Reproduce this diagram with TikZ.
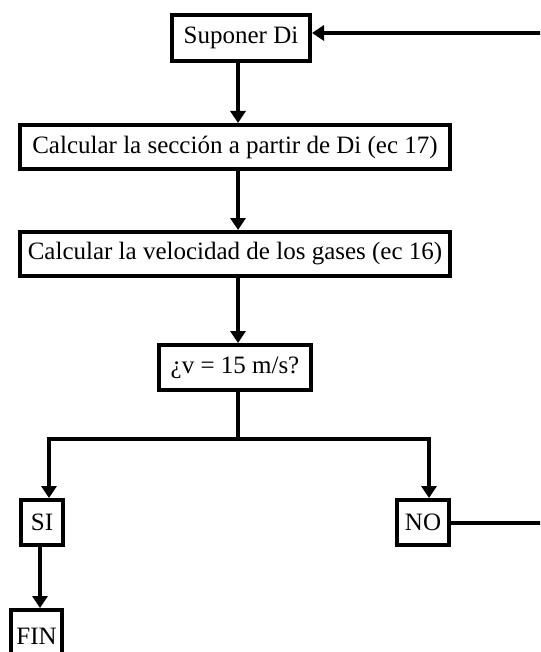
\documentclass[tikz,border=0pt]{standalone}
\usepackage{fontspec}
\setmainfont{Liberation Serif}
\usetikzlibrary{arrows.meta,calc}
\begin{document}
\begin{tikzpicture}[x=1pt,y=-1pt,
  box/.style={draw=black,line width=4pt,fill=white,inner sep=0pt,
    font=\fontsize{25}{29}\selectfont,text=black,anchor=center},
  conn/.style={line width=4pt,draw=black},
  arr/.style={conn,-{Triangle[width=15pt,length=12pt]}}]
\useasboundingbox (0,0) rectangle (540,652);
\fill[white] (0,0) rectangle (540,652);
\clip (0,0) rectangle (540,652);

\node[box,minimum width=138pt,minimum height=46pt] (A) at (241,38) {Suponer Di};
\node[box,minimum width=430pt,minimum height=44pt] (B) at (235,147)
  {Calcular la sección a partir de Di (ec 17)};
\node[box,minimum width=430pt,minimum height=44pt] (C) at (235,254)
  {Calcular la velocidad de los gases (ec 16)};
\node[box,minimum width=152pt,minimum height=45pt] (D) at (235,367.5) {¿v = 15 m/s?};
\node[box,minimum width=42pt,minimum height=45pt] (SI) at (42,522.5) {SI};
\node[box,minimum width=52pt,minimum height=45pt] (NO) at (423,522.5) {NO};
\node[box,minimum width=51pt,minimum height=52pt] (FIN) at (36.5,636) {FIN};

\coordinate (split) at (238,439);
\coordinate (far) at (570,0);

\draw[arr] ([xshift=-3pt]A.south) -- ([xshift=3pt]B.north);
\draw[arr] ([xshift=3pt]B.south) -- ([xshift=3pt]C.north);
\draw[arr] ([xshift=3pt]C.south) -- ([xshift=3pt]D.north);
\draw[conn] ([xshift=3pt]D.south) -- (split);
\draw[arr] (split) -| ([xshift=7pt]SI.north);
\draw[arr] (split) -| ([xshift=6pt]NO.north);
\draw[arr] ([xshift=-2pt]SI.south) -- ([xshift=3.5pt]FIN.north);
\draw[arr] (NO.east) -- (NO.east -| far) -- ([yshift=5pt]A.east -| far) -- ([yshift=5pt]A.east);
\end{tikzpicture}
\end{document}
